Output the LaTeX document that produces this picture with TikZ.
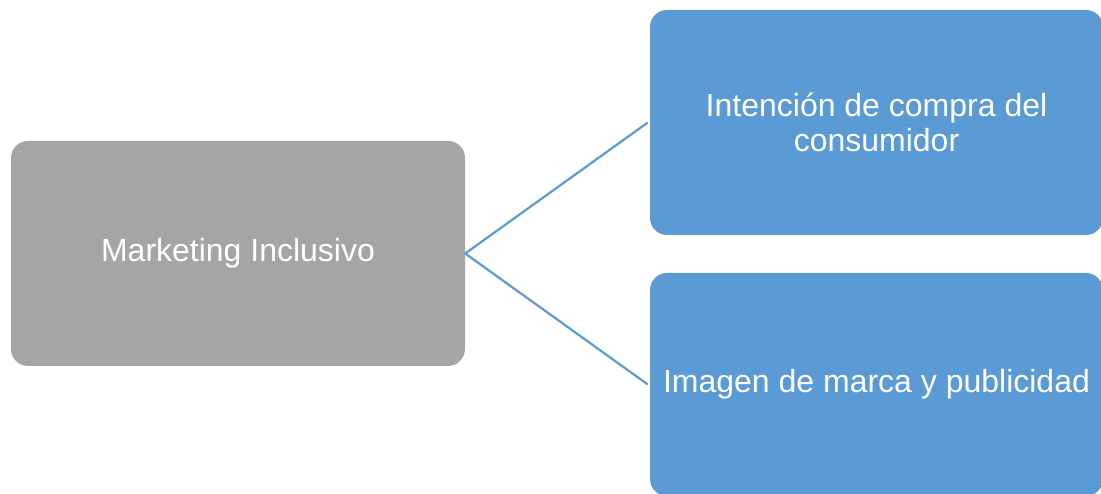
\documentclass[tikz,border=0pt]{standalone}
\usepackage{fontspec}
\setmainfont{Liberation Sans}
\definecolor{boxgray}{HTML}{A5A5A5}
\definecolor{boxblue}{HTML}{5B9BD5}
\begin{document}
\begin{tikzpicture}[x=1pt,y=1pt,
  card/.style={rounded corners=17pt, inner sep=0pt, text=white, align=center,
    font=\fontsize{32}{35}\selectfont},
  link/.style={draw=boxblue, line width=2.2pt}]
\useasboundingbox (0,0) rectangle (1101,494);
% source box
\node[card, fill=boxgray, minimum width=454pt, minimum height=225pt] (src) at (238,240.5) {Marketing Inclusivo};
% target boxes
\node[card, fill=boxblue, minimum width=453pt, minimum height=225pt] (t1) at (876.5,371.5) {Intención de compra del\\consumidor};
\node[card, fill=boxblue, minimum width=453pt, minimum height=223pt] (t2) at (876.5,109.5) {Imagen de marca y publicidad};
% connectors
\draw[link] (src.east) -- ([xshift=-2pt]t1.west);
\draw[link] (src.east) -- ([xshift=-2pt]t2.west);
\end{tikzpicture}
\end{document}
